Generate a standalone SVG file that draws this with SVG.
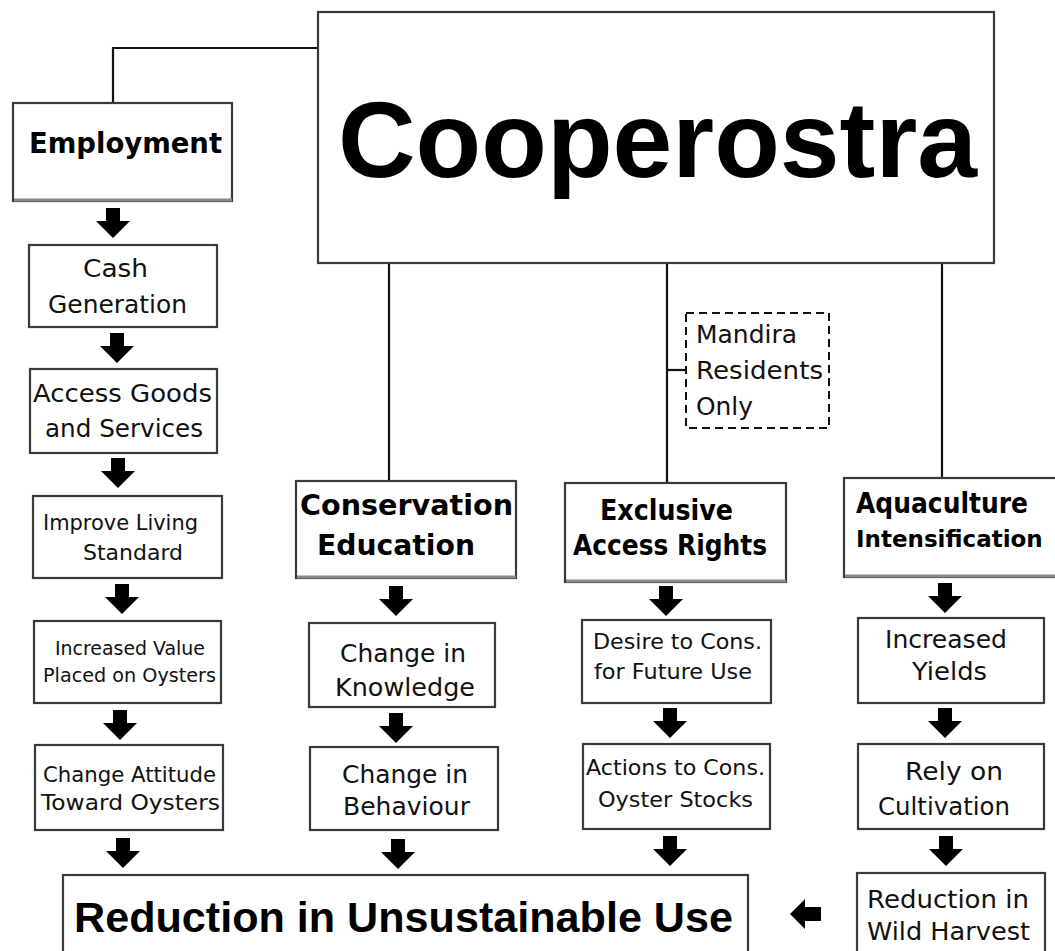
<svg xmlns="http://www.w3.org/2000/svg" xmlns:xlink="http://www.w3.org/1999/xlink" width="1055" height="951" viewBox="0 0 1055 951">
<style>
.box{fill:#fff;stroke:#3a3a3a;stroke-width:2.2}
.hbox{fill:#fff;stroke:#3a3a3a;stroke-width:2.2}
.shadow{stroke:#8a8a8a;stroke-width:3;fill:none}
.dash{fill:#fff;stroke:#111;stroke-width:2;stroke-dasharray:8 5}
.line{fill:none;stroke:#111;stroke-width:2.2}
.t{font-family:"DejaVu Sans",Verdana,sans-serif;font-size:25px;fill:#111}
.s{font-family:"DejaVu Sans",Verdana,sans-serif;font-size:21px;fill:#111}
.xs{font-family:"DejaVu Sans",Verdana,sans-serif;font-size:19px;fill:#111}
.b{font-family:"DejaVu Sans",Verdana,sans-serif;font-weight:bold;font-size:28px;fill:#000}
.b23{font-size:23px}
.big{font-family:"Liberation Sans",Arial,sans-serif;font-weight:bold;fill:#000}
.arr{fill:#000}
</style>
<defs>
<path id="ad" d="M-7,0 H7 V13 H17 L0,30 L-17,13 H-7 Z"/>
<path id="al" d="M0,0 L15,-15 V-7 H31 V7 H15 V15 Z"/>
</defs>
<rect width="1055" height="951" fill="#fff"/>

<g id="connectors">
<polyline class="line" points="318,48 113,48 113,103"/>
<line class="line" x1="389" y1="263" x2="389" y2="481"/>
<line class="line" x1="667" y1="263" x2="667" y2="483"/>
<line class="line" x1="667" y1="370" x2="686" y2="370"/>
<line class="line" x1="942" y1="263" x2="942" y2="478"/>
<g class="arr">
<use xlink:href="#ad" x="113" y="208"/>
<use xlink:href="#ad" x="117" y="333"/>
<use xlink:href="#ad" x="118" y="458"/>
<use xlink:href="#ad" x="122" y="584"/>
<use xlink:href="#ad" x="120" y="710"/>
<use xlink:href="#ad" x="123" y="838"/>
<use xlink:href="#ad" x="396" y="586"/>
<use xlink:href="#ad" x="396" y="713"/>
<use xlink:href="#ad" x="398" y="839"/>
<use xlink:href="#ad" x="666" y="586"/>
<use xlink:href="#ad" x="670" y="708"/>
<use xlink:href="#ad" x="670" y="836"/>
<use xlink:href="#ad" x="945" y="583"/>
<use xlink:href="#ad" x="945" y="708"/>
<use xlink:href="#ad" x="946" y="836"/>
<use xlink:href="#al" x="790" y="914"/>
</g>
</g>

<g id="cooperostra">
<rect class="box" x="318" y="12" width="676" height="251"/>
<text class="big" x="338" y="177" font-size="108" textLength="639" lengthAdjust="spacingAndGlyphs">Cooperostra</text>
</g>

<g id="employment">
<rect class="hbox" x="13" y="103" width="219" height="98"/>
<line class="shadow" x1="14" y1="200" x2="232" y2="200"/>
<text class="b" x="29" y="153" textLength="193" lengthAdjust="spacingAndGlyphs">Employment</text>
</g>
<g id="cash">
<rect class="box" x="29" y="245" width="188" height="82"/>
<text class="t" x="83" y="277" textLength="65" lengthAdjust="spacingAndGlyphs">Cash</text>
<text class="t" x="48" y="313" textLength="139" lengthAdjust="spacingAndGlyphs">Generation</text>
</g>
<g id="access">
<rect class="box" x="30" y="369" width="187" height="84"/>
<text class="t" x="33" y="402" textLength="179" lengthAdjust="spacingAndGlyphs">Access Goods</text>
<text class="t" x="45" y="437" textLength="158" lengthAdjust="spacingAndGlyphs">and Services</text>
</g>
<g id="improve">
<rect class="box" x="33" y="496" width="189" height="82"/>
<text class="s" x="43" y="530" textLength="155" lengthAdjust="spacingAndGlyphs">Improve Living</text>
<text class="s" x="83" y="560" textLength="100" lengthAdjust="spacingAndGlyphs">Standard</text>
</g>
<g id="value">
<rect class="box" x="34" y="621" width="187" height="82"/>
<text class="xs" x="55" y="655" textLength="150" lengthAdjust="spacingAndGlyphs">Increased Value</text>
<text class="xs" x="43" y="682" textLength="173" lengthAdjust="spacingAndGlyphs">Placed on Oysters</text>
</g>
<g id="attitude">
<rect class="box" x="35" y="745" width="188" height="85"/>
<text class="s" x="43" y="782" textLength="173" lengthAdjust="spacingAndGlyphs">Change Attitude</text>
<text class="s" x="41" y="810" textLength="179" lengthAdjust="spacingAndGlyphs">Toward Oysters</text>
</g>

<g id="conservation">
<rect class="hbox" x="296" y="481" width="220" height="97"/>
<line class="shadow" x1="297" y1="577" x2="516" y2="577"/>
<text class="b" x="300" y="515" textLength="213" lengthAdjust="spacingAndGlyphs">Conservation</text>
<text class="b" x="317" y="555" textLength="158" lengthAdjust="spacingAndGlyphs">Education</text>
</g>
<g id="knowledge">
<rect class="box" x="309" y="623" width="186" height="84"/>
<text class="t" x="340" y="662" textLength="126" lengthAdjust="spacingAndGlyphs">Change in</text>
<text class="t" x="335" y="696" textLength="140" lengthAdjust="spacingAndGlyphs">Knowledge</text>
</g>
<g id="behaviour">
<rect class="box" x="310" y="747" width="188" height="83"/>
<text class="t" x="342" y="783" textLength="126" lengthAdjust="spacingAndGlyphs">Change in</text>
<text class="t" x="343" y="815" textLength="127" lengthAdjust="spacingAndGlyphs">Behaviour</text>
</g>

<g id="mandira">
<rect class="dash" x="686" y="313" width="143" height="115"/>
<text class="t" x="696" y="343" textLength="101" lengthAdjust="spacingAndGlyphs">Mandira</text>
<text class="t" x="696" y="379" textLength="127" lengthAdjust="spacingAndGlyphs">Residents</text>
<text class="t" x="696" y="415" textLength="57" lengthAdjust="spacingAndGlyphs">Only</text>
</g>
<g id="exclusive">
<rect class="hbox" x="565" y="483" width="221" height="99"/>
<line class="shadow" x1="566" y1="581" x2="786" y2="581"/>
<text class="b" x="600" y="520" textLength="133" lengthAdjust="spacingAndGlyphs">Exclusive</text>
<text class="b" x="573" y="555" textLength="194" lengthAdjust="spacingAndGlyphs">Access Rights</text>
</g>
<g id="desire">
<rect class="box" x="582" y="620" width="189" height="83"/>
<text class="s" x="593" y="649" textLength="169" lengthAdjust="spacingAndGlyphs">Desire to Cons.</text>
<text class="s" x="594" y="679" textLength="158" lengthAdjust="spacingAndGlyphs">for Future Use</text>
</g>
<g id="actions">
<rect class="box" x="583" y="744" width="187" height="85"/>
<text class="s" x="586" y="775" textLength="179" lengthAdjust="spacingAndGlyphs">Actions to Cons.</text>
<text class="s" x="598" y="807" textLength="155" lengthAdjust="spacingAndGlyphs">Oyster Stocks</text>
</g>

<g id="aquaculture">
<rect class="hbox" x="844" y="478" width="220" height="99"/>
<line class="shadow" x1="845" y1="576" x2="1064" y2="576"/>
<text class="b" x="856" y="513" textLength="172" lengthAdjust="spacingAndGlyphs">Aquaculture</text>
<text class="b b23" x="856" y="547">Intensification</text>
</g>
<g id="yields">
<rect class="box" x="858" y="618" width="186" height="85"/>
<text class="t" x="885" y="648" textLength="122" lengthAdjust="spacingAndGlyphs">Increased</text>
<text class="t" x="912" y="680" textLength="75" lengthAdjust="spacingAndGlyphs">Yields</text>
</g>
<g id="rely">
<rect class="box" x="858" y="744" width="186" height="85"/>
<text class="t" x="905" y="780" textLength="98" lengthAdjust="spacingAndGlyphs">Rely on</text>
<text class="t" x="878" y="815" textLength="132" lengthAdjust="spacingAndGlyphs">Cultivation</text>
</g>
<g id="wildharvest">
<rect class="box" x="857" y="873" width="188" height="100"/>
<text class="t" x="867" y="908" textLength="162" lengthAdjust="spacingAndGlyphs">Reduction in</text>
<text class="t" x="867" y="940" textLength="163" lengthAdjust="spacingAndGlyphs">Wild Harvest</text>
</g>

<g id="reduction">
<rect class="box" x="63" y="875" width="685" height="100"/>
<text class="big" x="74" y="932" font-size="43" textLength="659" lengthAdjust="spacingAndGlyphs">Reduction in Unsustainable Use</text>
</g>
</svg>
